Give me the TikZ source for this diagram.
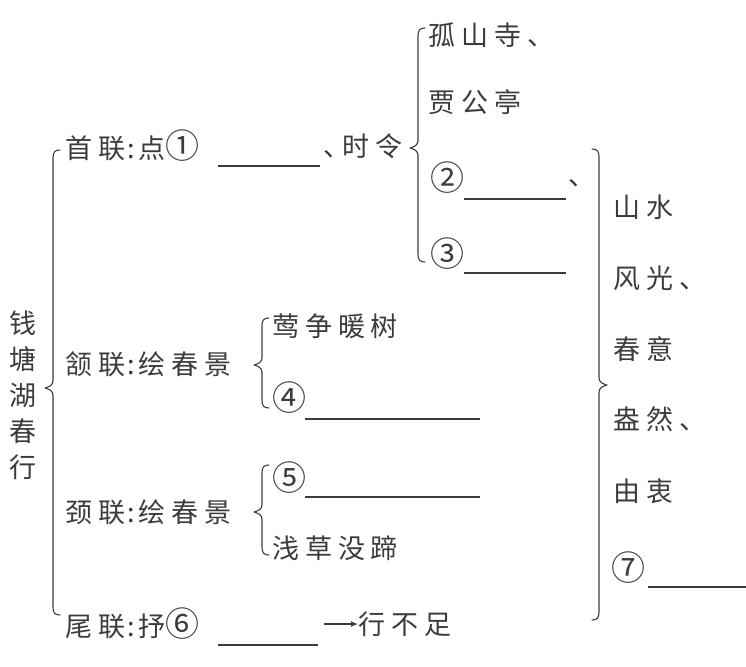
\documentclass[tikz,border=0pt]{standalone}
\usepackage{fontspec}
\setmainfont{Noto Sans CJK SC}
\newfontfamily\cjkls[LetterSpace=22]{Noto Sans CJK SC}
\usetikzlibrary{arrows.meta}
\definecolor{ink}{HTML}{3C3C3C}
\newcommand\cnum[1]{{\fontsize{34}{34}\selectfont #1}}
\newcommand\colo{\hspace{2pt}:\hspace{4pt}}
\tikzset{
  txt/.style={anchor=west, inner sep=0pt, font=\cjkls\fontsize{27}{32}\selectfont, text=ink},
  bracepath/.style={draw=ink, line width=1.1pt, line join=round, line cap=round},
  blank/.style={draw=ink, line width=1.3pt},
  arr/.style={draw=ink, line width=1.3pt, -{Latex[length=7pt,width=6pt]}},
}
% #1 x, #2 top, #3 middle, #4 bottom, #5 direction (+1 = '{', -1 = '}')
\newcommand\mybrc[5]{%
  \draw[bracepath] ({#1+7*#5},#2) .. controls ({#1+2*#5},#2) and (#1,{#2+2}) .. (#1,{#2+8})
    -- (#1,{#3-7}) .. controls (#1,{#3-3}) and ({#1-4*#5},{#3-1}) .. ({#1-8*#5},#3)
    .. controls ({#1-4*#5},{#3+1}) and (#1,{#3+3}) .. (#1,{#3+7})
    -- (#1,{#4-8}) .. controls (#1,{#4-2}) and ({#1+2*#5},#4) .. ({#1+7*#5},#4);}
\begin{document}
\begin{tikzpicture}[x=1pt,y=-1pt]
\useasboundingbox[fill=white] (0,0) rectangle (746,666);

% title, vertical
\node[txt, anchor=center, align=center, font=\fontsize{27}{36}\selectfont] (title) at (23,395) {钱\\塘\\湖\\春\\行};

% braces
\mybrc{53}{150}{388}{615}{1}
\mybrc{418}{28}{148}{262}{1}
\mybrc{599}{149}{385}{620}{-1}
\mybrc{262}{318}{365}{408}{1}
\mybrc{262}{465}{512}{555}{1}

% first couplet
\node[txt] (sl) at (65,146) {首联\colo 点\cnum{①}};
\coordinate (b1a) at (218,166); \coordinate (b1b) at (320,166);
\draw[blank] (b1a) -- (b1b);
\node[txt] (sl2) at (323,146) {、\hspace{-8pt}时令};
\node[txt] (gss) at (428,35) {孤山寺、};
\node[txt] (jgt) at (428,102) {贾公亭};
\node[txt] (n2) at (430,178) {\cnum{②}};
\coordinate (b2a) at (464,199); \coordinate (b2b) at (566,199);
\draw[blank] (b2a) -- (b2b);
\node[txt] (dun) at (568,183) {、};
\node[txt] (n3) at (430,254) {\cnum{③}};
\coordinate (b3a) at (464,273); \coordinate (b3b) at (566,273);
\draw[blank] (b3a) -- (b3b);

% second couplet
\node[txt] (hl) at (65,364) {颔联\colo 绘春景};
\node[txt] (yzns) at (272,326) {莺争暖树};
\node[txt] (n4) at (272,398) {\cnum{④}};
\coordinate (b4a) at (305,419); \coordinate (b4b) at (480,419);
\draw[blank] (b4a) -- (b4b);

% third couplet
\node[txt] (jl) at (65,512) {颈联\colo 绘春景};
\node[txt] (n5) at (272,478) {\cnum{⑤}};
\coordinate (b5a) at (305,497); \coordinate (b5b) at (480,497);
\draw[blank] (b5a) -- (b5b);
\node[txt] (qcmt) at (272,548) {浅草没蹄};

% last couplet
\node[txt] (wl) at (65,624) {尾联\colo 抒\cnum{⑥}};
\coordinate (b6a) at (218,645); \coordinate (b6b) at (318,645);
\draw[blank] (b6a) -- (b6b);
\node[txt] (xbz) at (358,624) {行不足};
\coordinate (arS) at (324,624);
\draw[arr] (arS) -- (xbz.west);

% right column
\node[txt] (ss) at (613,207) {山水};
\node[txt] (fg) at (613,278) {风光、};
\node[txt] (cy) at (613,349) {春意};
\node[txt] (pr) at (613,419) {盎然、};
\node[txt] (yz) at (613,491) {由衷};
\node[txt] (n7) at (611,568) {\cnum{⑦}};
\coordinate (b7a) at (648,587); \coordinate (b7b) at (746,587);
\draw[blank] (b7a) -- (b7b);
\end{tikzpicture}
\end{document}
